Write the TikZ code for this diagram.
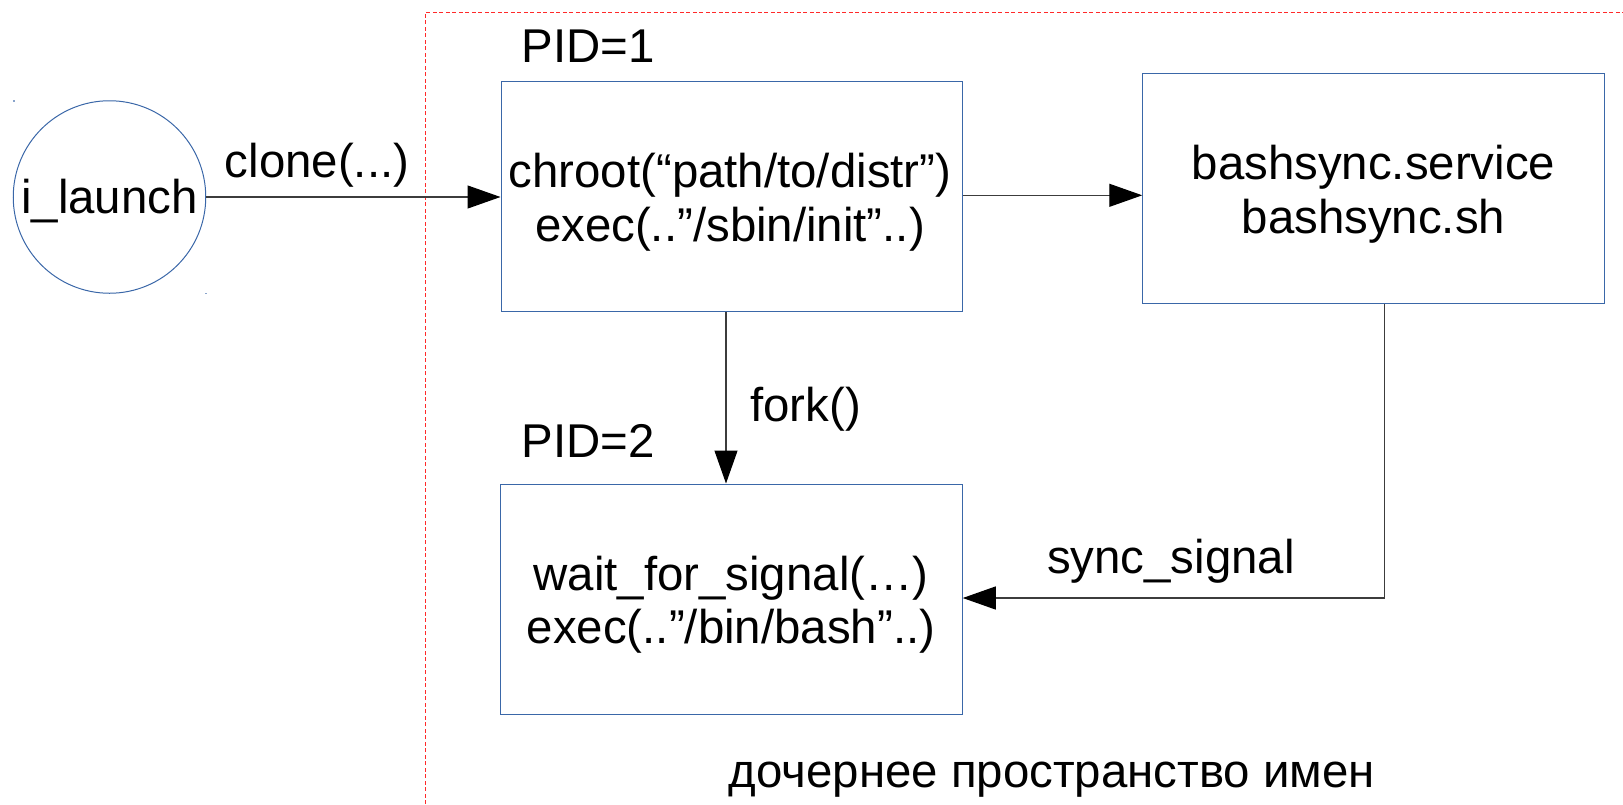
\documentclass[tikz,border=0pt]{standalone}
\usepackage{fontspec}
\setmainfont{Liberation Sans}
\usetikzlibrary{arrows.meta}
\definecolor{boxblue}{HTML}{3A67A8}
\definecolor{wiregray}{HTML}{3C3C3C}
\definecolor{framered}{HTML}{FF2A2A}
\begin{document}
\begin{tikzpicture}[x=1pt,y=-1pt,
  txt/.style={font=\fontsize{47.4}{54}\selectfont, inner sep=0pt, anchor=base},
  procbox/.style={draw=boxblue, line width=1pt, inner sep=0pt,
    minimum width=461.5pt, minimum height=230pt},
  proc/.style={draw=boxblue, line width=1pt, circle, inner sep=0pt,
    minimum size=192.5pt},
  flow/.style={draw=wiregray, line width=1.2pt,
    -{Triangle[length=33pt,width=23pt,fill=black,color=black]}},
  nsframe/.style={draw=framered, line width=1pt, dash pattern=on 4pt off 2.5pt},
  corner/.style={fill=boxblue!60, inner sep=0pt, minimum size=1.6pt}
]
\useasboundingbox (0,0) rectangle (1623,804);

% namespace boundary (runs past the right and bottom edges)
\draw[nsframe] (425,804) -- (425,12.3) -- (1623,12.3);

% launcher process
\node[proc] (launch) at (109.5,197) {};
\node[txt] (launchT) at (109.5,213) {i\_launch};
\node[corner] (launchNW) at (14,100.7) {};
\node[corner] (launchSE) at (206,293.3) {};

% process boxes
\node[procbox] (init) at (731.75,196) {};
\node[procbox] (svc) at (1373.5,188.8) {};
\node[procbox] (wait) at (731.5,599) {};

\node[txt] (initA) at (730,187) {chroot(“path/to/distr”)};
\node[txt] (initB) at (730,241) {exec(..”/sbin/init”..)};
\node[txt] (svcA) at (1373.5,179) {bashsync.service};
\node[txt] (svcB) at (1373.5,233) {bashsync.sh};
\node[txt] (waitA) at (731,590) {wait\_for\_signal(…)};
\node[txt] (waitB) at (731,643) {exec(..”/bin/bash”..)};

% labels
\node[txt] (pid1) at (588,62) {PID=1};
\node[txt] (pid2) at (588,457) {PID=2};
\node[txt] (cloneL) at (317,177) {clone(...)};
\node[txt] (forkL) at (805.5,421.5) {fork()};
\node[txt] (syncL) at (1171,573) {sync\_signal};
\node[txt] (nsL) at (1052,787) {дочернее пространство имен};

% connectors
\draw[flow] (launch.east) -- (launch.east -| init.west);
\draw[flow] ([yshift=0.7pt]init.east) -- ([yshift=0.7pt]init.east -| svc.west);
\draw[flow] ([xshift=-5.75pt]init.south) -- ([xshift=-5.5pt]wait.north);
\draw[flow] ([xshift=11pt]svc.south) |- ([yshift=1pt]wait.east);
\end{tikzpicture}
\end{document}
